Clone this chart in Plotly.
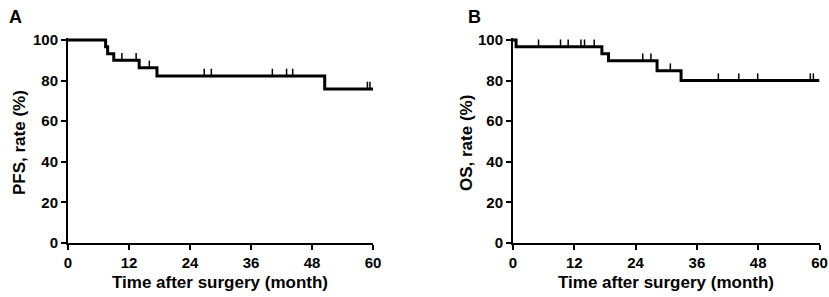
import numpy as np
import plotly.graph_objects as go

# ---- Data ----
pfs_time = [0, 7.4, 7.8, 9.0, 14.0, 17.5, 50.5, 60]
pfs_surv = [100, 96.7, 93.3, 90.0, 86.3, 82.3, 75.9, 75.9]
pfs_censor = [0.9, 4.9, 10.6, 13.4, 16.0, 26.8, 28.2, 40.2, 43.0, 44.2, 58.9, 59.4]

os_time = [0, 0.6, 17.4, 18.7, 28.2, 32.9, 60]
os_surv = [100, 96.7, 93.3, 89.8, 84.9, 80.0, 80.0]
os_censor = [5.0, 9.3, 10.8, 13.3, 14.0, 15.9, 25.4, 27.0, 30.8, 40.2, 44.2, 47.9, 58.2, 58.8]

x_ticks = [0, 12, 24, 36, 48, 60]
y_ticks = [0, 20, 40, 60, 80, 100]

x_title = "Time after surgery (month)"
y_titles = ["PFS, rate (%)", "OS, rate (%)"]
panel_labels = ["A", "B"]


def step_value(times, surv, t):
    i = np.searchsorted(np.array(times), t, side="right") - 1
    return surv[i]


W, H = 829, 297
FONT = "Liberation Sans, Arial, Helvetica, sans-serif"

fig = go.Figure()

panels = [
    ("x", "y", "y3", pfs_time, pfs_surv, pfs_censor),
    ("x2", "y2", "y4", os_time, os_surv, os_censor),
]
for xa, ya, ya_c, t, s, c in panels:
    fig.add_trace(go.Scatter(x=t, y=s, mode="lines", line=dict(color="black", width=3, shape="hv"),
                             xaxis=xa, yaxis=ya, showlegend=False, hoverinfo="skip"))
    fig.add_trace(go.Scatter(x=c, y=[step_value(t, s, v) for v in c], mode="markers",
                             marker=dict(symbol="line-ns", size=6, line=dict(color="black", width=1.5)),
                             xaxis=xa, yaxis=ya_c, showlegend=False, hoverinfo="skip", cliponaxis=False))


def px_x(p):
    return p / W


def px_y(p):
    return 1 - p / H


ytop = 38  # pixel for 101
ybot = 243
yr = [0, 101]
shift = 1.5
axis_common = dict(showline=True, linecolor="black", linewidth=2, ticks="outside", ticklen=5,
                   tickwidth=2, tickcolor="black", showgrid=False, zeroline=False, automargin=False,
                   tickfont=dict(family=FONT, size=15, color="black", weight="bold"))

title_font = dict(family=FONT, size=17, color="black", weight="bold")

ann = []
for lab, (lx, ly) in zip(panel_labels, [(16, 17), (474, 17)]):
    ann.append(dict(text=lab, x=px_x(lx), y=px_y(ly), xref="paper", yref="paper", showarrow=False,
                    xanchor="center", yanchor="middle",
                    font=dict(family=FONT, size=18, color="black", weight="bold")))
for cx in [220, 666]:
    ann.append(dict(text=x_title, x=px_x(cx), y=px_y(282), xref="paper", yref="paper", showarrow=False,
                    xanchor="center", yanchor="middle", font=title_font))
for yt, cx in zip(y_titles, [20, 467]):
    ann.append(dict(text=yt, x=px_x(cx), y=px_y(143), xref="paper", yref="paper", showarrow=False,
                    xanchor="center", yanchor="middle", textangle=-90, font=title_font))

fig.update_layout(
    width=W, height=H, margin=dict(l=0, r=0, t=0, b=0),
    plot_bgcolor="white", paper_bgcolor="white",
    xaxis=dict(domain=[px_x(68), px_x(373)], range=[0, 60], tickvals=x_ticks, anchor="y", **axis_common),
    yaxis=dict(domain=[px_y(ybot), px_y(ytop)], range=yr, tickvals=y_ticks, anchor="x", **axis_common),
    xaxis2=dict(domain=[px_x(513), px_x(819.5)], range=[0, 60], tickvals=x_ticks, anchor="y2", **axis_common),
    yaxis2=dict(domain=[px_y(ybot), px_y(ytop)], range=yr, tickvals=y_ticks, anchor="x2", **axis_common),
    yaxis3=dict(overlaying="y", anchor="x", range=[yr[0] - shift, yr[1] - shift], visible=False),
    yaxis4=dict(overlaying="y2", anchor="x2", range=[yr[0] - shift, yr[1] - shift], visible=False),
    annotations=ann,
)

fig.write_html("out.html", config={"displayModeBar": False},
               post_script="document.body.style.margin='0';document.body.style.overflow='hidden';")
